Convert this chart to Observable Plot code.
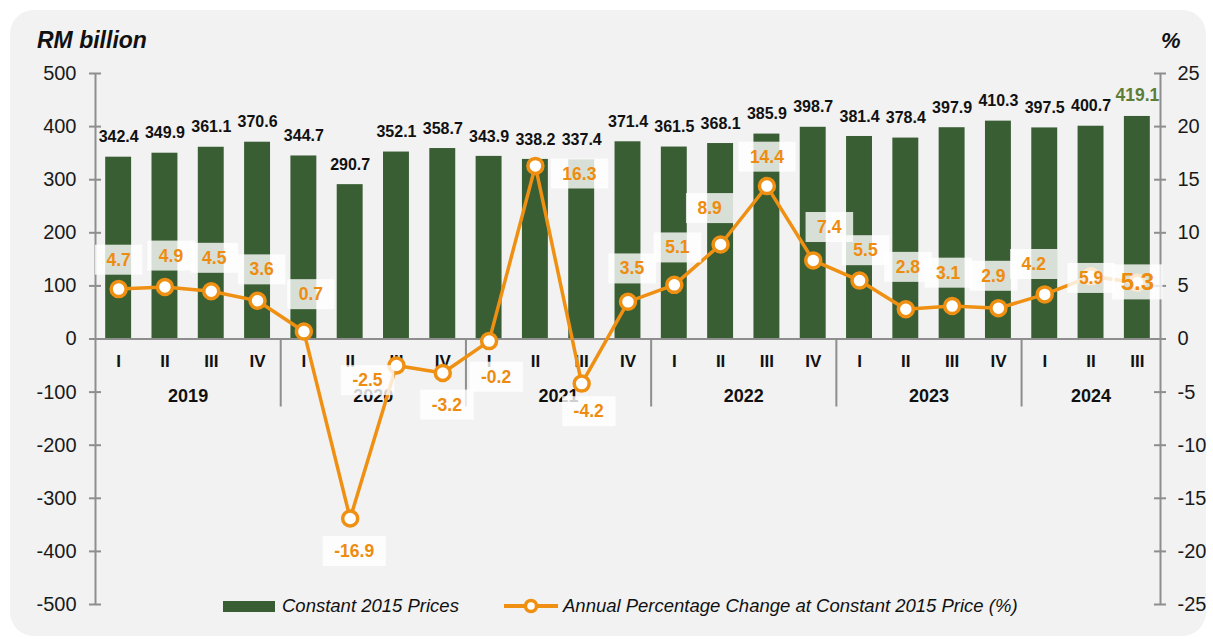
<!DOCTYPE html>
<html>
<head>
<meta charset="utf-8">
<script src="https://cdn.jsdelivr.net/npm/d3@7"></script>
<script src="https://cdn.jsdelivr.net/npm/@observablehq/plot@0.6"></script>
<style>
  html, body { margin: 0; padding: 0; background: #ffffff; }
  #wrap { position: relative; width: 1213px; height: 639px; font-family: "Liberation Sans", Arial, sans-serif; overflow: hidden; }
  #panel { position: absolute; left: 10px; top: 10px; width: 1196px; height: 626px; background: #f2f2f2; border-radius: 24px; }
  #chart { position: absolute; left: 0; top: 0; }
  .ttl { position: absolute; font-weight: bold; font-style: italic; font-size: 23px; color: #111; line-height: 1; }
  .leg { position: absolute; font-style: italic; font-size: 18.5px; color: #111; line-height: 1; white-space: nowrap; }
</style>
</head>
<body>
<div id="wrap">
  <div id="panel"></div>
  <div class="ttl" style="left:37px; top:29px;">RM billion</div>
  <div class="ttl" style="left:1161px; top:30px; font-size:22px;">%</div>
  <div id="chart"></div>
  <div id="legend"></div>
</div>
<script>
// ---------------- data ----------------
const years = [2019, 2020, 2021, 2022, 2023, 2024];
const quartersPerYear = [4, 4, 4, 4, 4, 3];
const quarterNames = ["I", "II", "III", "IV"];
const gdp = [342.4, 349.9, 361.1, 370.6, 344.7, 290.7, 352.1, 358.7, 343.9, 338.2, 337.4, 371.4,
             361.5, 368.1, 385.9, 398.7, 381.4, 378.4, 397.9, 410.3, 397.5, 400.7, 419.1];
const growth = [4.7, 4.9, 4.5, 3.6, 0.7, -16.9, -2.5, -3.2, -0.2, 16.3, -4.2, 3.5,
                5.1, 8.9, 14.4, 7.4, 5.5, 2.8, 3.1, 2.9, 4.2, 5.9, 5.3];
const leftTicks = [-500, -400, -300, -200, -100, 0, 100, 200, 300, 400, 500];
const seriesNames = ["Constant 2015 Prices", "Annual Percentage Change at Constant 2015 Price (%)"];

// ---------------- layout / style ----------------
const W = 1213, H = 639, mL = 95, mR = 53, mT = 73, mB = 35;
const green = "#3a5e34", olive = "#5e7d36", orange = "#ef9012", labelOrange = "#ee8c10", axisC = "#8e8e8e";
const ratio = 500 / 25; // left units per right-axis percent
// pixel offsets of percentage labels relative to their points
const labelOffsets = [[0,-29],[6,-31],[3,-33],[4,-31],[7,-37],[4,33],[-29,15],[4,32],[7,36],[44,8],[7,28],
  [4,-33],[3,-37],[-11,-36],[0,-29],[16,-33],[6,-30],[2,-42],[-4,-33],[-5,-32],[-11,-30],[0,2],[0,0]];

const rows = [];
years.forEach((y, yi) => {
  for (let q = 0; q < quartersPerYear[yi]; q++) rows.push({year: y, q: quarterNames[q]});
});
rows.forEach((r, i) => { r.i = i; r.v = gdp[i]; r.g = growth[i]; });
const n = rows.length;
const kx = (W - mL - mR) / n;          // px per x unit
const ky = (H - mT - mB) / 1000;       // px per y unit
const xL = -0.5, xR = n - 0.5;
const tk = 6 / kx;                     // half tick length in x units

const yearInfo = years.map((y) => {
  const idx = rows.filter(r => r.year === y).map(r => r.i);
  return {year: y, c: d3.mean(idx), last: d3.max(idx)};
});
const seps = yearInfo.slice(0, -1).map(d => d.last + 0.5);

const lastI = n - 1;
const plot = Plot.plot({
  width: W, height: H,
  marginLeft: mL, marginRight: mR, marginTop: mT, marginBottom: mB,
  style: {background: "transparent", fontFamily: "Liberation Sans, Arial, sans-serif", overflow: "visible"},
  x: {type: "linear", domain: [xL, xR], axis: null},
  y: {domain: [-500, 500], axis: null},
  marks: [
    Plot.rect(rows, {x1: d => d.i - 0.28, x2: d => d.i + 0.28, y1: 0, y2: "v", fill: green}),
    Plot.ruleY([0], {stroke: axisC, strokeWidth: 2}),
    Plot.ruleX([xL, xR], {x: d => d, stroke: axisC, strokeWidth: 2}),
    Plot.ruleX(seps, {x: d => d, y1: 0, y2: -68 / ky, stroke: axisC, strokeWidth: 2}),
    // axis ticks (crossing the axis lines)
    Plot.ruleY(leftTicks, {y: d => d, x1: xL - tk, x2: xL + tk, stroke: axisC, strokeWidth: 2}),
    Plot.ruleY(leftTicks, {y: d => d, x1: xR - tk, x2: xR + tk, stroke: axisC, strokeWidth: 2}),
    Plot.text(leftTicks, {x: () => xL, y: d => d, dx: -19, textAnchor: "end", text: d => String(d), fontSize: 20, fill: "#1a1a1a"}),
    Plot.text(leftTicks, {x: () => xR, y: d => d, dx: 17, textAnchor: "start", text: d => String(d / ratio), fontSize: 20, fill: "#1a1a1a"}),
    // quarter and year labels
    Plot.text(rows, {x: "i", y: () => 0, dy: 23, text: "q", fontWeight: "bold", fontSize: 17, fill: "#111"}),
    Plot.text(yearInfo, {x: "c", y: () => 0, dy: 57, text: d => String(d.year), fontWeight: "bold", fontSize: 18, fill: "#111"}),
    // bar value labels
    Plot.text(rows.filter(d => d.i < lastI), {x: "i", y: "v", dy: -20, text: d => d.v.toFixed(1), fontWeight: "bold", fontSize: 16, fill: "#111"}),
    Plot.text(rows.filter(d => d.i === lastI), {x: "i", y: "v", dy: -21, text: d => d.v.toFixed(1), fontWeight: "bold", fontSize: 17.5, fill: olive}),
    // growth line
    Plot.line(rows, {x: "i", y: d => d.g * ratio, stroke: orange, strokeWidth: 3.5}),
    Plot.dot(rows, {x: "i", y: d => d.g * ratio, r: 7.5, fill: "#fff", stroke: orange, strokeWidth: 3.5}),
    Plot.text(rows.filter(d => d.i < lastI), {
      x: d => d.i + labelOffsets[d.i][0] / kx,
      y: d => d.g * ratio - labelOffsets[d.i][1] / ky,
      text: d => d.g.toFixed(1), fill: labelOrange, fontWeight: "bold", fontSize: 17.5,
      ariaDescription: "pctlabel"
    }),
    Plot.text(rows.filter(d => d.i === lastI), {
      x: d => d.i + labelOffsets[d.i][0] / kx,
      y: d => d.g * ratio - labelOffsets[d.i][1] / ky,
      text: d => d.g.toFixed(1), fill: labelOrange, fontWeight: "bold", fontSize: 24,
      ariaDescription: "pctlabelbig"
    })
  ]
});
document.getElementById("chart").append(plot);

function boxLabels(sel, px, py) {
  d3.select(plot).selectAll(`g[aria-description="${sel}"] text`).each(function() {
    const b = this.getBBox();
    const t = this;
    d3.select(t.parentNode).insert("rect", () => t)
      .attr("x", b.x - px).attr("y", b.y - py)
      .attr("width", b.width + 2 * px).attr("height", b.height + 2 * py)
      .attr("fill", "#ffffff").attr("fill-opacity", 0.8)
      .attr("transform", t.getAttribute("transform"));
  });
}
boxLabels("pctlabel", 11.5, 5);
boxLabels("pctlabelbig", 8.5, 4);

// ---------------- legend ----------------
const leg = document.getElementById("legend");
leg.innerHTML = `
  <div style="position:absolute;left:223px;top:601px;width:52px;height:11px;background:${green}"></div>
  <div class="leg" style="left:282px;top:597px;">${seriesNames[0]}</div>
  <svg style="position:absolute;left:503px;top:596px;" width="56" height="20">
    <line x1="1" x2="55" y1="10" y2="10" stroke="${orange}" stroke-width="4"/>
    <circle cx="28" cy="10" r="5.5" fill="#fff" stroke="${orange}" stroke-width="3.5"/>
  </svg>
  <div class="leg" style="left:563px;top:597px;">${seriesNames[1]}</div>`;
</script>
</body>
</html>
